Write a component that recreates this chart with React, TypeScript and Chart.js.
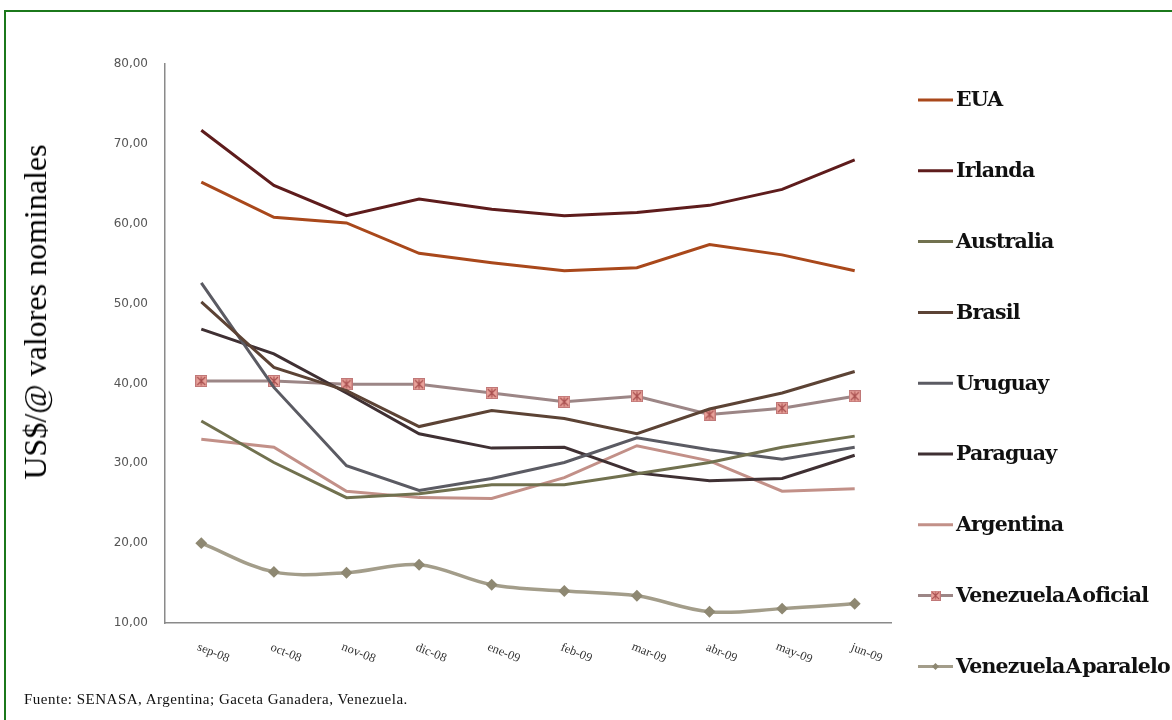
import React, { useEffect, useRef } from "react";
import { Chart, registerables } from "chart.js";

Chart.register(...registerables);

const categories = ["sep-08", "oct-08", "nov-08", "dic-08", "ene-09", "feb-09", "mar-09", "abr-09", "may-09", "jun-09"];
const seriesNames = ["EUA", "Irlanda", "Australia", "Brasil", "Uruguay", "Paraguay", "Argentina", "Venezuela A oficial", "Venezuela A paralelo"];
const eua = [65.2, 60.8, 60.1, 56.3, 55.1, 54.1, 54.5, 57.4, 56.1, 54.1];
const irlanda = [71.7, 64.8, 61.0, 63.1, 61.8, 61.0, 61.4, 62.3, 64.3, 68.0];
const australia = [35.3, 30.1, 25.7, 26.2, 27.3, 27.3, 28.7, 30.1, 32.0, 33.4];
const brasil = [50.2, 42.0, 39.1, 34.6, 36.6, 35.6, 33.7, 36.8, 38.8, 41.5];
const uruguay = [52.6, 39.5, 29.7, 26.6, 28.1, 30.1, 33.2, 31.7, 30.5, 32.0];
const paraguay = [46.8, 43.7, 38.8, 33.7, 31.9, 32.0, 28.8, 27.8, 28.1, 31.0];
const argentina = [33.0, 32.0, 26.5, 25.7, 25.6, 28.2, 32.2, 30.3, 26.5, 26.8];
const venOficial = [40.3, 40.3, 39.9, 39.9, 38.8, 37.7, 38.4, 36.1, 36.9, 38.4];
const venParalelo = [20.0, 16.4, 16.3, 17.3, 14.8, 14.0, 13.4, 11.4, 11.8, 12.4];
const yMin = 10;
const yMax = 80;
const yStep = 10;
const yTitle = "US$/@ valores nominales";
const footnote = "Fuente: SENASA, Argentina; Gaceta Ganadera, Venezuela.";

const colors = ["#A9481B", "#5E1C1C", "#71714F", "#5C4335", "#5B5B63", "#3F3033", "#C29088", "#9C8686", "#A39D8A"];

function makeStarSquare(): HTMLCanvasElement {
  const c = document.createElement("canvas");
  c.width = 12;
  c.height = 12;
  const g = c.getContext("2d")!;
  g.fillStyle = "#E8A29A";
  g.fillRect(0.5, 0.5, 11, 11);
  g.strokeStyle = "#C07878";
  g.lineWidth = 1;
  g.strokeRect(0.5, 0.5, 11, 11);
  g.strokeStyle = "#A84F4F";
  g.lineWidth = 1.2;
  g.beginPath();
  g.moveTo(2, 2); g.lineTo(10, 10);
  g.moveTo(10, 2); g.lineTo(2, 10);
  g.moveTo(6, 1.5); g.lineTo(6, 10.5);
  g.stroke();
  return c;
}

export default function App() {
  const ref = useRef<HTMLCanvasElement | null>(null);

  useEffect(() => {
    if (!ref.current) return;
    const star = makeStarSquare();
    const values = [eua, irlanda, australia, brasil, uruguay, paraguay, argentina, venOficial, venParalelo];

    const datasets: any[] = values.map((v, i) => ({
      label: seriesNames[i],
      data: v,
      borderColor: colors[i],
      backgroundColor: colors[i],
      borderWidth: i === 8 ? 3.5 : 3,
      pointRadius: 0,
      tension: 0,
      fill: false,
    }));
    datasets[7].pointStyle = star;
    datasets[7].pointRadius = 6;
    datasets[8].pointStyle = "rectRot";
    datasets[8].pointRadius = 3.5;
    datasets[8].backgroundColor = "#8E8872";
    datasets[8].pointBorderColor = "#8E8872";
    datasets[8].tension = 0.35;

    const xLabelPlugin = {
      id: "xLabels",
      afterDraw(chart: any) {
        const ctx = chart.ctx;
        const xs = chart.scales.x;
        ctx.save();
        ctx.font = "12.5px 'Liberation Serif', serif";
        ctx.fillStyle = "#333";
        ctx.textAlign = "center";
        ctx.textBaseline = "middle";
        categories.forEach((lab, i) => {
          const x = xs.getPixelForValue(i);
          ctx.save();
          ctx.translate(x + 12, 653);
          ctx.rotate((22 * Math.PI) / 180);
          ctx.fillText(lab, 0, 0);
          ctx.restore();
        });
        ctx.restore();
      },
    };

    const legendPlugin = {
      id: "customLegend",
      afterDraw(chart: any) {
        const ctx = chart.ctx;
        ctx.save();
        ctx.font = "bold 20.5px 'DejaVu Serif', serif";
        try { (ctx as any).letterSpacing = "-0.8px"; (ctx as any).wordSpacing = "-5px"; } catch (e) {}
        ctx.textBaseline = "middle";
        ctx.textAlign = "left";
        chart.data.datasets.forEach((ds: any, i: number) => {
          const y = 100 + i * 70.8;
          ctx.strokeStyle = ds.borderColor;
          ctx.lineWidth = 3;
          ctx.beginPath();
          ctx.moveTo(918, y);
          ctx.lineTo(953, y);
          ctx.stroke();
          if (ds.pointStyle === star) {
            ctx.drawImage(star, 935.5 - 5, y - 5, 10, 10);
          } else if (ds.pointStyle === "rectRot") {
            ctx.fillStyle = "#8E8872";
            ctx.beginPath();
            ctx.moveTo(935.5, y - 3.5);
            ctx.lineTo(939, y);
            ctx.lineTo(935.5, y + 3.5);
            ctx.lineTo(932, y);
            ctx.closePath();
            ctx.fill();
          }
          ctx.fillStyle = "#111";
          ctx.fillText(ds.label, 956, y + 1);
        });
        ctx.restore();
      },
    };

    const chart = new Chart(ref.current, {
      type: "line",
      data: { labels: categories, datasets },
      plugins: [xLabelPlugin, legendPlugin],
      options: {
        animation: false,
        responsive: false,
        layout: { padding: { left: 0, right: 281, top: 64, bottom: 97 } },
        plugins: { legend: { display: false }, tooltip: { enabled: false } },
        scales: {
          x: {
            type: "category",
            offset: true,
            grid: { display: false, drawTicks: false },
            border: { display: true, color: "#8A8A8A", width: 1.5 },
            ticks: { display: false },
            afterFit(scale: any) { scale.height = 0; },
          },
          y: {
            min: yMin,
            max: yMax,
            grid: { display: false, drawTicks: false },
            border: { display: true, color: "#8A8A8A", width: 1.5 },
            ticks: {
              stepSize: yStep,
              padding: 17,
              color: "#555",
              font: { family: "'DejaVu Sans', sans-serif", size: 12 },
              callback: (v: any) => Number(v).toFixed(2).replace(".", ","),
            },
            afterFit(scale: any) { scale.width = 165; },
          },
        },
      },
    } as any);
    return () => chart.destroy();
  }, []);

  return (
    <div style={{ position: "fixed", left: 0, top: 0, width: 1172, height: 720, background: "#fff", overflow: "hidden" }}>
      <div style={{ position: "absolute", left: 4, top: 10, right: 0, bottom: 0, borderTop: "2px solid #1B781B", borderLeft: "2px solid #1B781B" }} />
      <canvas ref={ref} width={1172} height={720} style={{ position: "absolute", left: 0, top: 0, width: 1172, height: 720 }} />
      <div style={{ position: "absolute", left: 35, top: 312, transform: "translate(-50%, -50%) rotate(-90deg)", whiteSpace: "nowrap", fontFamily: "'Liberation Serif', serif", fontSize: 32, color: "#000", lineHeight: 1 }}>
        {yTitle}
      </div>
      <div style={{ position: "absolute", left: 24, top: 690, whiteSpace: "nowrap", fontFamily: "'Liberation Serif', serif", fontSize: 15, letterSpacing: 0.5, color: "#111", lineHeight: "18px" }}>
        {footnote}
      </div>
    </div>
  );
}
